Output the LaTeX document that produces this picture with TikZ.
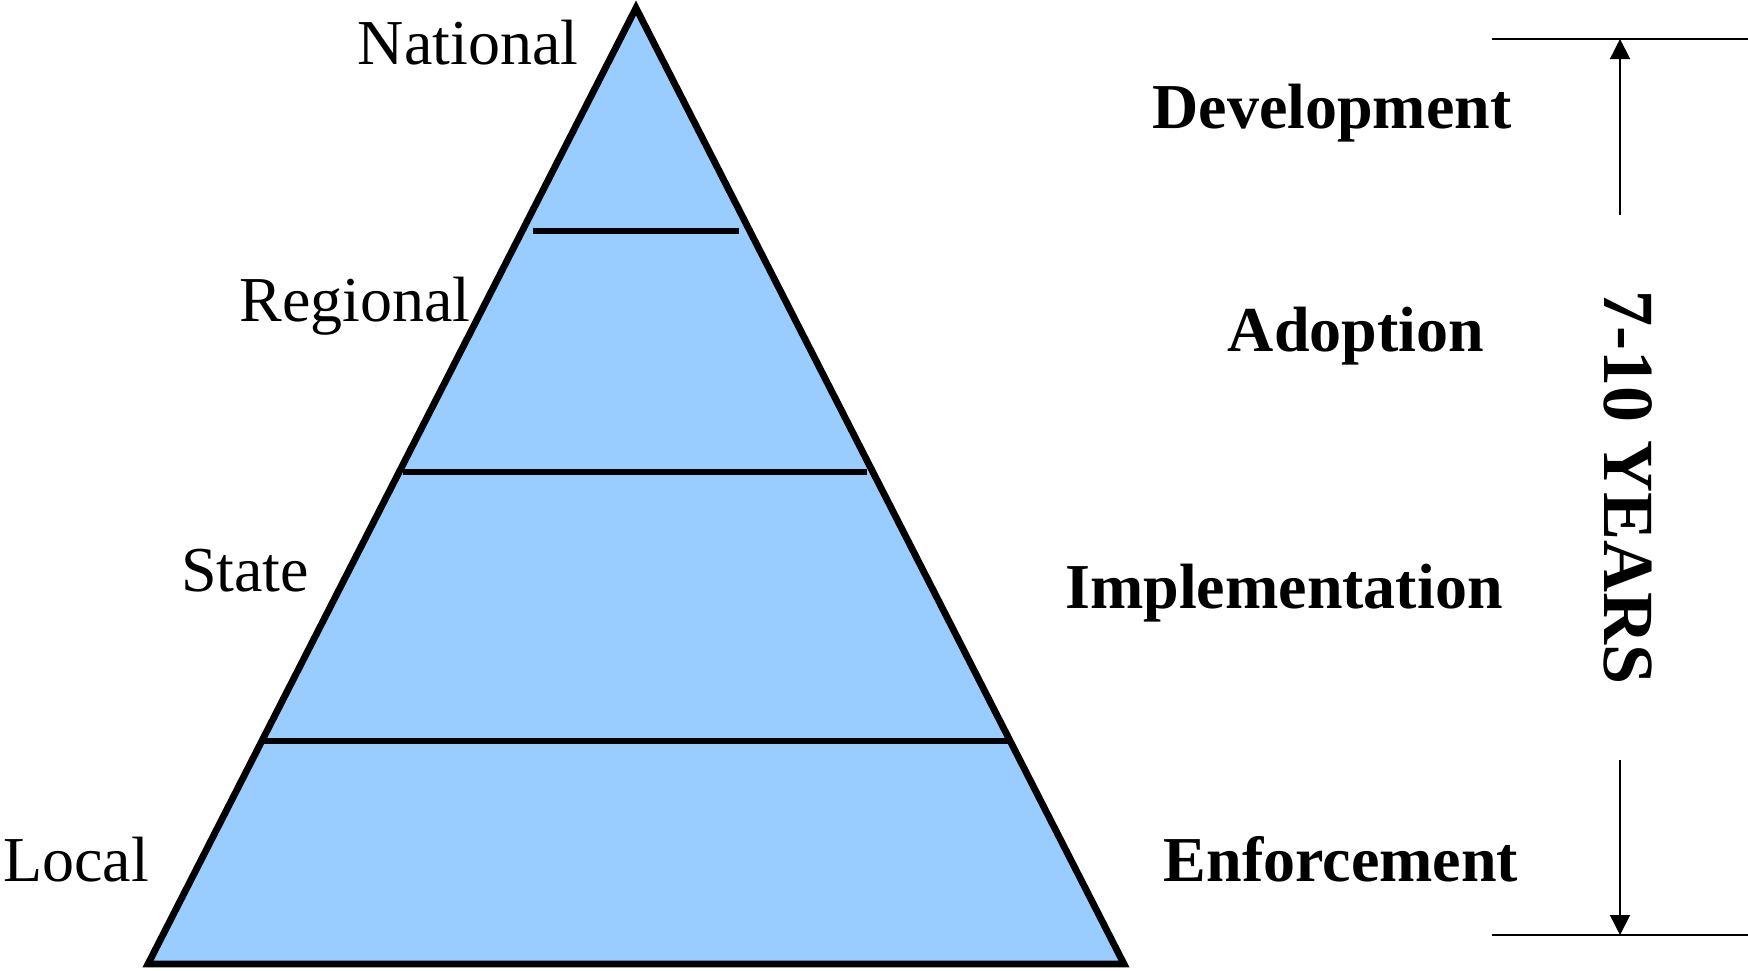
\documentclass[tikz,border=0pt]{standalone}
\usepackage{fontspec}
\setmainfont{Liberation Serif}
\usetikzlibrary{arrows.meta}
\definecolor{pyr}{HTML}{99CCFF}
\begin{document}
\begin{tikzpicture}[x=0.5pt,y=-0.5pt,
  lvl/.style={anchor=base,inner sep=0pt,font=\fontsize{32}{38}\selectfont},
  phase/.style={anchor=base,inner sep=0pt,font=\fontsize{32}{38}\selectfont\bfseries},
  band/.style={line width=3.4pt},
  dimline/.style={line width=0.8pt},
  dimarrow/.style={line width=0.8pt,-{Triangle[length=10pt,width=10pt]}}]
\useasboundingbox (0,0) rectangle (1748,970);
% pyramid
\coordinate (apex) at (636,8);
\coordinate (bl) at (148,964);
\coordinate (br) at (1124,964);
\filldraw[fill=pyr,draw=black,line width=3.4pt,line join=miter] (apex) -- (bl) -- (br) -- cycle;
% level separators
\coordinate (s1l) at (533,231); \coordinate (s1r) at (739,231);
\coordinate (s2l) at (403,472); \coordinate (s2r) at (867,472);
\coordinate (s3l) at (264,741); \coordinate (s3r) at (1009,741);
\draw[band] (s1l) -- (s1r);
\draw[band] (s2l) -- (s2r);
\draw[band] (s3l) -- (s3r);
% level labels
\node[lvl] (national) at (468,64) {National};
\node[lvl] (regional) at (355,321) {Regional};
\node[lvl] (state) at (245,591) {State};
\node[lvl] (local) at (76,881) {Local};
% phase labels
\node[phase] (dev) at (1332,128) {Development};
\node[phase] (adopt) at (1356,351) {Adoption};
\node[phase] (impl) at (1284,608) {Implementation};
\node[phase] (enf) at (1341,881) {Enforcement};
% dimension
\coordinate (t1) at (1492,39); \coordinate (t2) at (1748,39);
\coordinate (b1) at (1492,935); \coordinate (b2) at (1748,935);
\coordinate (a1s) at (1620,215); \coordinate (a1e) at (1620,39);
\coordinate (a2s) at (1620,760); \coordinate (a2e) at (1620,935);
\draw[dimline] (t1) -- (t2);
\draw[dimline] (b1) -- (b2);
\draw[dimarrow] (a1s) -- (a1e);
\draw[dimarrow] (a2s) -- (a2e);
\node[rotate=-90,inner sep=0pt,font=\fontsize{36}{40}\selectfont\bfseries] (years) at (1628,488) {7-10 YEARS};
\end{tikzpicture}
\end{document}
